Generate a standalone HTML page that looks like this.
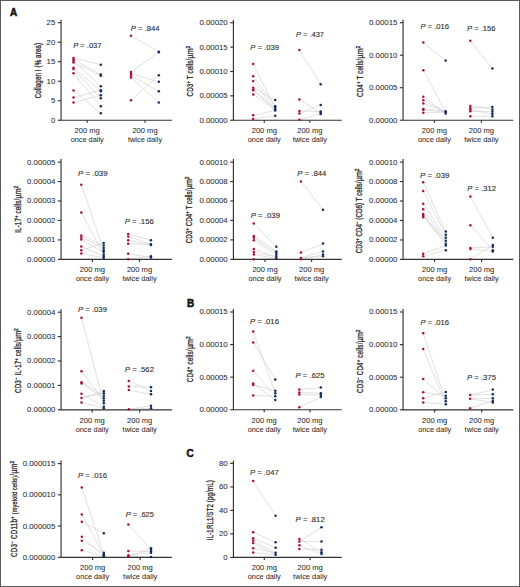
<!DOCTYPE html>
<html><head><meta charset="utf-8"><title>Figure</title>
<style>
html,body{margin:0;padding:0;background:#fff;}
body{width:520px;height:587px;overflow:hidden;}
svg{display:block;}
text{font-family:"Liberation Sans",sans-serif;fill:#2e2e2e;stroke:#2e2e2e;stroke-width:0.06px;}
.t{font-size:7.6px;}
.p{font-size:7.6px;stroke-width:0.12px;}
.y{font-size:8.4px;stroke-width:0.3px;}
.L{font-size:10px;font-weight:bold;fill:#111;stroke:#111;stroke-width:0.5px;}
.a{stroke:#333333;stroke-width:1.15;fill:none;}
.c{stroke:#cdcdcd;stroke-width:0.6;}
</style></head>
<body>
<svg width="520" height="587" viewBox="0 0 520 587">
<rect x="0.5" y="0.5" width="519" height="586" fill="#fff" stroke="#5a5a5a" stroke-width="1"/>
<line x1="73.5" y1="58.1" x2="100.8" y2="64.7" class="c"/>
<line x1="73.5" y1="59.5" x2="100.8" y2="74.5" class="c"/>
<line x1="73.5" y1="61" x2="100.8" y2="86.2" class="c"/>
<line x1="73.5" y1="62.5" x2="100.8" y2="75.7" class="c"/>
<line x1="73.5" y1="67.7" x2="100.8" y2="91.2" class="c"/>
<line x1="73.5" y1="68.9" x2="100.8" y2="98.3" class="c"/>
<line x1="73.5" y1="73.3" x2="100.8" y2="106.3" class="c"/>
<line x1="73.5" y1="90.6" x2="100.8" y2="113.2" class="c"/>
<line x1="73.5" y1="97.5" x2="100.8" y2="90.3" class="c"/>
<line x1="73.5" y1="102.5" x2="100.8" y2="95.3" class="c"/>
<line x1="131" y1="35.8" x2="158.8" y2="51.7" class="c"/>
<line x1="131" y1="72.1" x2="158.8" y2="52.2" class="c"/>
<line x1="131" y1="73.7" x2="158.8" y2="81.8" class="c"/>
<line x1="131" y1="75.5" x2="158.8" y2="91.3" class="c"/>
<line x1="131" y1="77.5" x2="158.8" y2="102.5" class="c"/>
<line x1="131" y1="100.2" x2="158.8" y2="75.2" class="c"/>
<path d="M61.05 19.7V120.25H171.9" class="a"/>
<path d="M57.85 22.7H61.05" class="a"/>
<text x="55.35" y="25.15" class="t" text-anchor="end" textLength="8.71" lengthAdjust="spacingAndGlyphs">25</text>
<path d="M57.85 42.21H61.05" class="a"/>
<text x="55.35" y="44.66" class="t" text-anchor="end" textLength="8.71" lengthAdjust="spacingAndGlyphs">20</text>
<path d="M57.85 61.72H61.05" class="a"/>
<text x="55.35" y="64.17" class="t" text-anchor="end" textLength="8.71" lengthAdjust="spacingAndGlyphs">15</text>
<path d="M57.85 81.23H61.05" class="a"/>
<text x="55.35" y="83.68" class="t" text-anchor="end" textLength="8.71" lengthAdjust="spacingAndGlyphs">10</text>
<path d="M57.85 100.74H61.05" class="a"/>
<text x="55.35" y="103.19" class="t" text-anchor="end" textLength="4.35" lengthAdjust="spacingAndGlyphs">5</text>
<path d="M57.85 120.25H61.05" class="a"/>
<text x="55.35" y="122.7" class="t" text-anchor="end" textLength="4.35" lengthAdjust="spacingAndGlyphs">0</text>
<path d="M87.2 120.25V122.85" class="a"/>
<text x="87.2" y="133.05" class="t" text-anchor="middle" textLength="25.2" lengthAdjust="spacingAndGlyphs">200 mg</text>
<path d="M145 120.25V122.85" class="a"/>
<text x="145" y="133.05" class="t" text-anchor="middle" textLength="25.2" lengthAdjust="spacingAndGlyphs">200 mg</text>
<text x="87.2" y="142.05" class="t" text-anchor="middle" textLength="33" lengthAdjust="spacingAndGlyphs">once daily</text>
<text x="145" y="142.05" class="t" text-anchor="middle" textLength="34.2" lengthAdjust="spacingAndGlyphs">twice daily</text>
<circle cx="73.5" cy="58.1" r="1.25" fill="#a8123a"/>
<circle cx="73.5" cy="59.5" r="1.25" fill="#a8123a"/>
<circle cx="73.5" cy="61" r="1.25" fill="#a8123a"/>
<circle cx="73.5" cy="62.5" r="1.25" fill="#a8123a"/>
<circle cx="73.5" cy="67.7" r="1.25" fill="#a8123a"/>
<circle cx="73.5" cy="68.9" r="1.25" fill="#a8123a"/>
<circle cx="73.5" cy="73.3" r="1.25" fill="#a8123a"/>
<circle cx="73.5" cy="90.6" r="1.25" fill="#a8123a"/>
<circle cx="73.5" cy="97.5" r="1.25" fill="#a8123a"/>
<circle cx="73.5" cy="102.5" r="1.25" fill="#a8123a"/>
<circle cx="100.8" cy="64.7" r="1.25" fill="#122c5e"/>
<circle cx="100.8" cy="74.5" r="1.25" fill="#122c5e"/>
<circle cx="100.8" cy="75.7" r="1.25" fill="#122c5e"/>
<circle cx="100.8" cy="86.2" r="1.25" fill="#122c5e"/>
<circle cx="100.8" cy="90.3" r="1.25" fill="#122c5e"/>
<circle cx="100.8" cy="91.2" r="1.25" fill="#122c5e"/>
<circle cx="100.8" cy="95.3" r="1.25" fill="#122c5e"/>
<circle cx="100.8" cy="98.3" r="1.25" fill="#122c5e"/>
<circle cx="100.8" cy="106.3" r="1.25" fill="#122c5e"/>
<circle cx="100.8" cy="113.2" r="1.25" fill="#122c5e"/>
<circle cx="131" cy="35.8" r="1.25" fill="#a8123a"/>
<circle cx="131" cy="72.1" r="1.25" fill="#a8123a"/>
<circle cx="131" cy="73.7" r="1.25" fill="#a8123a"/>
<circle cx="131" cy="75.5" r="1.25" fill="#a8123a"/>
<circle cx="131" cy="77.5" r="1.25" fill="#a8123a"/>
<circle cx="131" cy="100.2" r="1.25" fill="#a8123a"/>
<circle cx="158.8" cy="51.7" r="1.25" fill="#122c5e"/>
<circle cx="158.8" cy="52.2" r="1.25" fill="#122c5e"/>
<circle cx="158.8" cy="75.2" r="1.25" fill="#122c5e"/>
<circle cx="158.8" cy="81.8" r="1.25" fill="#122c5e"/>
<circle cx="158.8" cy="91.3" r="1.25" fill="#122c5e"/>
<circle cx="158.8" cy="102.5" r="1.25" fill="#122c5e"/>
<text x="73.2" y="47.6" class="p" textLength="28.3" lengthAdjust="spacingAndGlyphs"><tspan font-style="italic">P</tspan> = .037</text>
<text x="130.7" y="31" class="p" textLength="28.9" lengthAdjust="spacingAndGlyphs"><tspan font-style="italic">P</tspan> = .844</text>
<text transform="translate(40.7 70.65) rotate(-90) scale(0.74 1)" class="y" text-anchor="middle" textLength="74.73" lengthAdjust="spacing">Collagen I (% area)</text>
<line x1="253.2" y1="64" x2="275.2" y2="107.5" class="c"/>
<line x1="253.2" y1="76.3" x2="275.2" y2="106.3" class="c"/>
<line x1="253.2" y1="81" x2="275.2" y2="109.3" class="c"/>
<line x1="253.2" y1="87.8" x2="275.2" y2="100.1" class="c"/>
<line x1="253.2" y1="89.4" x2="275.2" y2="110.5" class="c"/>
<line x1="253.2" y1="90.2" x2="275.2" y2="107.5" class="c"/>
<line x1="253.2" y1="94.4" x2="275.2" y2="109.3" class="c"/>
<line x1="253.2" y1="115.3" x2="275.2" y2="110.5" class="c"/>
<line x1="253.2" y1="118.9" x2="275.2" y2="115.7" class="c"/>
<line x1="299.4" y1="50" x2="320.7" y2="84.2" class="c"/>
<line x1="299.4" y1="99.6" x2="320.7" y2="112.7" class="c"/>
<line x1="299.4" y1="111" x2="320.7" y2="111.5" class="c"/>
<line x1="299.4" y1="113.5" x2="320.7" y2="105" class="c"/>
<line x1="299.4" y1="119.8" x2="320.7" y2="113.9" class="c"/>
<path d="M233.4 19.7V120.25H341.7" class="a"/>
<path d="M230.2 22.7H233.4" class="a"/>
<text x="227.7" y="25.15" class="t" text-anchor="end" textLength="28.29" lengthAdjust="spacingAndGlyphs">0.00020</text>
<path d="M230.2 47.09H233.4" class="a"/>
<text x="227.7" y="49.54" class="t" text-anchor="end" textLength="28.29" lengthAdjust="spacingAndGlyphs">0.00015</text>
<path d="M230.2 71.47H233.4" class="a"/>
<text x="227.7" y="73.92" class="t" text-anchor="end" textLength="28.29" lengthAdjust="spacingAndGlyphs">0.00010</text>
<path d="M230.2 95.86H233.4" class="a"/>
<text x="227.7" y="98.31" class="t" text-anchor="end" textLength="28.29" lengthAdjust="spacingAndGlyphs">0.00005</text>
<path d="M230.2 120.25H233.4" class="a"/>
<text x="227.7" y="122.7" class="t" text-anchor="end" textLength="28.29" lengthAdjust="spacingAndGlyphs">0.00000</text>
<path d="M264.3 120.25V122.85" class="a"/>
<text x="264.3" y="133.05" class="t" text-anchor="middle" textLength="25.2" lengthAdjust="spacingAndGlyphs">200 mg</text>
<path d="M309.8 120.25V122.85" class="a"/>
<text x="309.8" y="133.05" class="t" text-anchor="middle" textLength="25.2" lengthAdjust="spacingAndGlyphs">200 mg</text>
<text x="264.3" y="142.05" class="t" text-anchor="middle" textLength="33" lengthAdjust="spacingAndGlyphs">once daily</text>
<text x="309.8" y="142.05" class="t" text-anchor="middle" textLength="34.2" lengthAdjust="spacingAndGlyphs">twice daily</text>
<circle cx="253.2" cy="64" r="1.25" fill="#a8123a"/>
<circle cx="253.2" cy="76.3" r="1.25" fill="#a8123a"/>
<circle cx="253.2" cy="81" r="1.25" fill="#a8123a"/>
<circle cx="253.2" cy="87.8" r="1.25" fill="#a8123a"/>
<circle cx="253.2" cy="89.4" r="1.25" fill="#a8123a"/>
<circle cx="253.2" cy="90.2" r="1.25" fill="#a8123a"/>
<circle cx="253.2" cy="94.4" r="1.25" fill="#a8123a"/>
<circle cx="253.2" cy="115.3" r="1.25" fill="#a8123a"/>
<circle cx="253.2" cy="118.9" r="1.25" fill="#a8123a"/>
<circle cx="275.2" cy="100.1" r="1.25" fill="#122c5e"/>
<circle cx="275.2" cy="106.3" r="1.25" fill="#122c5e"/>
<circle cx="275.2" cy="107.5" r="1.25" fill="#122c5e"/>
<circle cx="275.2" cy="109.3" r="1.25" fill="#122c5e"/>
<circle cx="275.2" cy="110.5" r="1.25" fill="#122c5e"/>
<circle cx="275.2" cy="115.7" r="1.25" fill="#122c5e"/>
<circle cx="299.4" cy="50" r="1.25" fill="#a8123a"/>
<circle cx="299.4" cy="99.6" r="1.25" fill="#a8123a"/>
<circle cx="299.4" cy="111" r="1.25" fill="#a8123a"/>
<circle cx="299.4" cy="113.5" r="1.25" fill="#a8123a"/>
<circle cx="299.4" cy="119.8" r="1.25" fill="#a8123a"/>
<circle cx="320.7" cy="84.2" r="1.25" fill="#122c5e"/>
<circle cx="320.7" cy="105" r="1.25" fill="#122c5e"/>
<circle cx="320.7" cy="111.5" r="1.25" fill="#122c5e"/>
<circle cx="320.7" cy="112.7" r="1.25" fill="#122c5e"/>
<circle cx="320.7" cy="113.9" r="1.25" fill="#122c5e"/>
<text x="250.3" y="49.8" class="p" textLength="28.7" lengthAdjust="spacingAndGlyphs"><tspan font-style="italic">P</tspan> = .039</text>
<text x="296" y="37.3" class="p" textLength="28" lengthAdjust="spacingAndGlyphs"><tspan font-style="italic">P</tspan> = .437</text>
<text transform="translate(192.5 45.7) rotate(-90)" class="y" text-anchor="end" textLength="12.7" lengthAdjust="spacingAndGlyphs" font-size="8.2">µm<tspan dy="-3.0" font-size="5.8">2</tspan></text>
<text transform="translate(192.5 77.6) rotate(-90) scale(0.74 1)" class="y" text-anchor="middle" textLength="50.81" lengthAdjust="spacing">CD3<tspan dy="-3.0" font-size="5.8">+</tspan><tspan dy="3.0"> T cells/</tspan></text>
<line x1="423.3" y1="42.6" x2="445.7" y2="60.6" class="c"/>
<line x1="423.3" y1="70.2" x2="445.7" y2="112.1" class="c"/>
<line x1="423.3" y1="96.7" x2="445.7" y2="113.5" class="c"/>
<line x1="423.3" y1="100.2" x2="445.7" y2="112.1" class="c"/>
<line x1="423.3" y1="103.6" x2="445.7" y2="111.2" class="c"/>
<line x1="423.3" y1="108.9" x2="445.7" y2="111.2" class="c"/>
<line x1="423.3" y1="109.8" x2="445.7" y2="112.1" class="c"/>
<line x1="423.3" y1="112.8" x2="445.7" y2="112.1" class="c"/>
<line x1="470.3" y1="40.8" x2="492.4" y2="68.6" class="c"/>
<line x1="470.3" y1="105.9" x2="492.4" y2="109.4" class="c"/>
<line x1="470.3" y1="108.2" x2="492.4" y2="107" class="c"/>
<line x1="470.3" y1="109.8" x2="492.4" y2="114" class="c"/>
<line x1="470.3" y1="111.2" x2="492.4" y2="111.7" class="c"/>
<line x1="470.3" y1="116.3" x2="492.4" y2="116.3" class="c"/>
<path d="M403.05 19.7V120.2H513.3" class="a"/>
<path d="M399.85 22.7H403.05" class="a"/>
<text x="397.35" y="25.15" class="t" text-anchor="end" textLength="28.29" lengthAdjust="spacingAndGlyphs">0.00015</text>
<path d="M399.85 55.2H403.05" class="a"/>
<text x="397.35" y="57.65" class="t" text-anchor="end" textLength="28.29" lengthAdjust="spacingAndGlyphs">0.00010</text>
<path d="M399.85 87.7H403.05" class="a"/>
<text x="397.35" y="90.15" class="t" text-anchor="end" textLength="28.29" lengthAdjust="spacingAndGlyphs">0.00005</text>
<path d="M399.85 120.2H403.05" class="a"/>
<text x="397.35" y="122.65" class="t" text-anchor="end" textLength="28.29" lengthAdjust="spacingAndGlyphs">0.00000</text>
<path d="M434.4 120.2V122.8" class="a"/>
<text x="434.4" y="133" class="t" text-anchor="middle" textLength="25.2" lengthAdjust="spacingAndGlyphs">200 mg</text>
<path d="M481.4 120.2V122.8" class="a"/>
<text x="481.4" y="133" class="t" text-anchor="middle" textLength="25.2" lengthAdjust="spacingAndGlyphs">200 mg</text>
<text x="434.4" y="142" class="t" text-anchor="middle" textLength="33" lengthAdjust="spacingAndGlyphs">once daily</text>
<text x="481.4" y="142" class="t" text-anchor="middle" textLength="34.2" lengthAdjust="spacingAndGlyphs">twice daily</text>
<circle cx="423.3" cy="42.6" r="1.25" fill="#a8123a"/>
<circle cx="423.3" cy="70.2" r="1.25" fill="#a8123a"/>
<circle cx="423.3" cy="96.7" r="1.25" fill="#a8123a"/>
<circle cx="423.3" cy="100.2" r="1.25" fill="#a8123a"/>
<circle cx="423.3" cy="103.6" r="1.25" fill="#a8123a"/>
<circle cx="423.3" cy="108.9" r="1.25" fill="#a8123a"/>
<circle cx="423.3" cy="109.8" r="1.25" fill="#a8123a"/>
<circle cx="423.3" cy="112.8" r="1.25" fill="#a8123a"/>
<circle cx="445.7" cy="60.6" r="1.25" fill="#122c5e"/>
<circle cx="445.7" cy="111.2" r="1.25" fill="#122c5e"/>
<circle cx="445.7" cy="112.1" r="1.25" fill="#122c5e"/>
<circle cx="445.7" cy="113.5" r="1.25" fill="#122c5e"/>
<circle cx="470.3" cy="40.8" r="1.25" fill="#a8123a"/>
<circle cx="470.3" cy="105.9" r="1.25" fill="#a8123a"/>
<circle cx="470.3" cy="108.2" r="1.25" fill="#a8123a"/>
<circle cx="470.3" cy="109.8" r="1.25" fill="#a8123a"/>
<circle cx="470.3" cy="111.2" r="1.25" fill="#a8123a"/>
<circle cx="470.3" cy="116.3" r="1.25" fill="#a8123a"/>
<circle cx="492.4" cy="68.6" r="1.25" fill="#122c5e"/>
<circle cx="492.4" cy="107" r="1.25" fill="#122c5e"/>
<circle cx="492.4" cy="109.4" r="1.25" fill="#122c5e"/>
<circle cx="492.4" cy="111.7" r="1.25" fill="#122c5e"/>
<circle cx="492.4" cy="114" r="1.25" fill="#122c5e"/>
<circle cx="492.4" cy="116.3" r="1.25" fill="#122c5e"/>
<text x="420.4" y="28.6" class="p" textLength="28.7" lengthAdjust="spacingAndGlyphs"><tspan font-style="italic">P</tspan> = .016</text>
<text x="467" y="31.4" class="p" textLength="28.6" lengthAdjust="spacingAndGlyphs"><tspan font-style="italic">P</tspan> = .156</text>
<text transform="translate(362.5 45.7) rotate(-90)" class="y" text-anchor="end" textLength="12.7" lengthAdjust="spacingAndGlyphs" font-size="8.2">µm<tspan dy="-3.0" font-size="5.8">2</tspan></text>
<text transform="translate(362.5 77.9) rotate(-90) scale(0.74 1)" class="y" text-anchor="middle" textLength="51.62" lengthAdjust="spacing">CD4<tspan dy="-3.0" font-size="5.8">+</tspan><tspan dy="3.0"> T cells/</tspan></text>
<line x1="81.3" y1="184.8" x2="103.7" y2="250.2" class="c"/>
<line x1="81.3" y1="212.4" x2="103.7" y2="254.5" class="c"/>
<line x1="81.3" y1="235.5" x2="103.7" y2="245.5" class="c"/>
<line x1="81.3" y1="237.5" x2="103.7" y2="247.9" class="c"/>
<line x1="81.3" y1="239.5" x2="103.7" y2="252.1" class="c"/>
<line x1="81.3" y1="246.6" x2="103.7" y2="256.2" class="c"/>
<line x1="81.3" y1="250.3" x2="103.7" y2="243.1" class="c"/>
<line x1="81.3" y1="253.5" x2="103.7" y2="257.9" class="c"/>
<line x1="128.2" y1="234" x2="150.9" y2="240.2" class="c"/>
<line x1="128.2" y1="236.4" x2="150.9" y2="244.3" class="c"/>
<line x1="128.2" y1="240.2" x2="150.9" y2="245" class="c"/>
<line x1="128.2" y1="243.8" x2="150.9" y2="244.3" class="c"/>
<line x1="128.2" y1="253.8" x2="150.9" y2="257.4" class="c"/>
<line x1="128.2" y1="259.3" x2="150.9" y2="256.2" class="c"/>
<path d="M61.05 159.1V259.35H171.9" class="a"/>
<path d="M57.85 162.1H61.05" class="a"/>
<text x="55.35" y="164.55" class="t" text-anchor="end" textLength="28.29" lengthAdjust="spacingAndGlyphs">0.00005</text>
<path d="M57.85 181.55H61.05" class="a"/>
<text x="55.35" y="184" class="t" text-anchor="end" textLength="28.29" lengthAdjust="spacingAndGlyphs">0.00004</text>
<path d="M57.85 201H61.05" class="a"/>
<text x="55.35" y="203.45" class="t" text-anchor="end" textLength="28.29" lengthAdjust="spacingAndGlyphs">0.00003</text>
<path d="M57.85 220.45H61.05" class="a"/>
<text x="55.35" y="222.9" class="t" text-anchor="end" textLength="28.29" lengthAdjust="spacingAndGlyphs">0.00002</text>
<path d="M57.85 239.9H61.05" class="a"/>
<text x="55.35" y="242.35" class="t" text-anchor="end" textLength="28.29" lengthAdjust="spacingAndGlyphs">0.00001</text>
<path d="M57.85 259.35H61.05" class="a"/>
<text x="55.35" y="261.8" class="t" text-anchor="end" textLength="28.29" lengthAdjust="spacingAndGlyphs">0.00000</text>
<path d="M92.4 259.35V261.95" class="a"/>
<text x="92.4" y="272.15" class="t" text-anchor="middle" textLength="25.2" lengthAdjust="spacingAndGlyphs">200 mg</text>
<path d="M139.5 259.35V261.95" class="a"/>
<text x="139.5" y="272.15" class="t" text-anchor="middle" textLength="25.2" lengthAdjust="spacingAndGlyphs">200 mg</text>
<text x="92.4" y="281.15" class="t" text-anchor="middle" textLength="33" lengthAdjust="spacingAndGlyphs">once daily</text>
<text x="139.5" y="281.15" class="t" text-anchor="middle" textLength="34.2" lengthAdjust="spacingAndGlyphs">twice daily</text>
<circle cx="81.3" cy="184.8" r="1.25" fill="#a8123a"/>
<circle cx="81.3" cy="212.4" r="1.25" fill="#a8123a"/>
<circle cx="81.3" cy="235.5" r="1.25" fill="#a8123a"/>
<circle cx="81.3" cy="237.5" r="1.25" fill="#a8123a"/>
<circle cx="81.3" cy="239.5" r="1.25" fill="#a8123a"/>
<circle cx="81.3" cy="246.6" r="1.25" fill="#a8123a"/>
<circle cx="81.3" cy="250.3" r="1.25" fill="#a8123a"/>
<circle cx="81.3" cy="253.5" r="1.25" fill="#a8123a"/>
<circle cx="103.7" cy="243.1" r="1.25" fill="#122c5e"/>
<circle cx="103.7" cy="245.5" r="1.25" fill="#122c5e"/>
<circle cx="103.7" cy="247.9" r="1.25" fill="#122c5e"/>
<circle cx="103.7" cy="250.2" r="1.25" fill="#122c5e"/>
<circle cx="103.7" cy="252.1" r="1.25" fill="#122c5e"/>
<circle cx="103.7" cy="254.5" r="1.25" fill="#122c5e"/>
<circle cx="103.7" cy="256.2" r="1.25" fill="#122c5e"/>
<circle cx="103.7" cy="257.9" r="1.25" fill="#122c5e"/>
<circle cx="128.2" cy="234" r="1.25" fill="#a8123a"/>
<circle cx="128.2" cy="236.4" r="1.25" fill="#a8123a"/>
<circle cx="128.2" cy="240.2" r="1.25" fill="#a8123a"/>
<circle cx="128.2" cy="243.8" r="1.25" fill="#a8123a"/>
<circle cx="128.2" cy="253.8" r="1.25" fill="#a8123a"/>
<circle cx="128.2" cy="259.3" r="1.25" fill="#a8123a"/>
<circle cx="150.9" cy="240.2" r="1.25" fill="#122c5e"/>
<circle cx="150.9" cy="244.3" r="1.25" fill="#122c5e"/>
<circle cx="150.9" cy="245" r="1.25" fill="#122c5e"/>
<circle cx="150.9" cy="256.2" r="1.25" fill="#122c5e"/>
<circle cx="150.9" cy="257.4" r="1.25" fill="#122c5e"/>
<text x="78.1" y="175.8" class="p" textLength="29.4" lengthAdjust="spacingAndGlyphs"><tspan font-style="italic">P</tspan> = .039</text>
<text x="124.7" y="223.7" class="p" textLength="29.1" lengthAdjust="spacingAndGlyphs"><tspan font-style="italic">P</tspan> = .156</text>
<text transform="translate(21.1 185.7) rotate(-90)" class="y" text-anchor="end" textLength="12.7" lengthAdjust="spacingAndGlyphs" font-size="8.2">µm<tspan dy="-3.0" font-size="5.8">2</tspan></text>
<text transform="translate(21.1 215.8) rotate(-90) scale(0.74 1)" class="y" text-anchor="middle" textLength="45.95" lengthAdjust="spacing">IL-17<tspan dy="-3.0" font-size="5.8">+</tspan><tspan dy="3.0"> cells/</tspan></text>
<line x1="253.8" y1="223.5" x2="276.3" y2="246.7" class="c"/>
<line x1="253.8" y1="235.9" x2="276.3" y2="251.4" class="c"/>
<line x1="253.8" y1="237.8" x2="276.3" y2="253.1" class="c"/>
<line x1="253.8" y1="240.2" x2="276.3" y2="255" class="c"/>
<line x1="253.8" y1="249" x2="276.3" y2="256.9" class="c"/>
<line x1="253.8" y1="252.1" x2="276.3" y2="256.9" class="c"/>
<line x1="253.8" y1="254.5" x2="276.3" y2="258.6" class="c"/>
<line x1="253.8" y1="259.3" x2="276.3" y2="258.6" class="c"/>
<line x1="300.9" y1="181.5" x2="323" y2="209.7" class="c"/>
<line x1="300.9" y1="252.6" x2="323" y2="243.6" class="c"/>
<line x1="300.9" y1="257.9" x2="323" y2="251.4" class="c"/>
<line x1="300.9" y1="259.3" x2="323" y2="254.5" class="c"/>
<line x1="300.9" y1="257.9" x2="323" y2="256.2" class="c"/>
<path d="M233.4 159.1V259.35H341.7" class="a"/>
<path d="M230.2 162.1H233.4" class="a"/>
<text x="227.7" y="164.55" class="t" text-anchor="end" textLength="28.29" lengthAdjust="spacingAndGlyphs">0.00010</text>
<path d="M230.2 181.55H233.4" class="a"/>
<text x="227.7" y="184" class="t" text-anchor="end" textLength="28.29" lengthAdjust="spacingAndGlyphs">0.00008</text>
<path d="M230.2 201H233.4" class="a"/>
<text x="227.7" y="203.45" class="t" text-anchor="end" textLength="28.29" lengthAdjust="spacingAndGlyphs">0.00006</text>
<path d="M230.2 220.45H233.4" class="a"/>
<text x="227.7" y="222.9" class="t" text-anchor="end" textLength="28.29" lengthAdjust="spacingAndGlyphs">0.00004</text>
<path d="M230.2 239.9H233.4" class="a"/>
<text x="227.7" y="242.35" class="t" text-anchor="end" textLength="28.29" lengthAdjust="spacingAndGlyphs">0.00002</text>
<path d="M230.2 259.35H233.4" class="a"/>
<text x="227.7" y="261.8" class="t" text-anchor="end" textLength="28.29" lengthAdjust="spacingAndGlyphs">0.00000</text>
<path d="M265 259.35V261.95" class="a"/>
<text x="265" y="272.15" class="t" text-anchor="middle" textLength="25.2" lengthAdjust="spacingAndGlyphs">200 mg</text>
<path d="M311.6 259.35V261.95" class="a"/>
<text x="311.6" y="272.15" class="t" text-anchor="middle" textLength="25.2" lengthAdjust="spacingAndGlyphs">200 mg</text>
<text x="265" y="281.15" class="t" text-anchor="middle" textLength="33" lengthAdjust="spacingAndGlyphs">once daily</text>
<text x="311.6" y="281.15" class="t" text-anchor="middle" textLength="34.2" lengthAdjust="spacingAndGlyphs">twice daily</text>
<circle cx="253.8" cy="223.5" r="1.25" fill="#a8123a"/>
<circle cx="253.8" cy="235.9" r="1.25" fill="#a8123a"/>
<circle cx="253.8" cy="237.8" r="1.25" fill="#a8123a"/>
<circle cx="253.8" cy="240.2" r="1.25" fill="#a8123a"/>
<circle cx="253.8" cy="249" r="1.25" fill="#a8123a"/>
<circle cx="253.8" cy="252.1" r="1.25" fill="#a8123a"/>
<circle cx="253.8" cy="254.5" r="1.25" fill="#a8123a"/>
<circle cx="253.8" cy="259.3" r="1.25" fill="#a8123a"/>
<circle cx="276.3" cy="246.7" r="1.25" fill="#122c5e"/>
<circle cx="276.3" cy="251.4" r="1.25" fill="#122c5e"/>
<circle cx="276.3" cy="253.1" r="1.25" fill="#122c5e"/>
<circle cx="276.3" cy="255" r="1.25" fill="#122c5e"/>
<circle cx="276.3" cy="256.9" r="1.25" fill="#122c5e"/>
<circle cx="276.3" cy="258.6" r="1.25" fill="#122c5e"/>
<circle cx="300.9" cy="181.5" r="1.25" fill="#a8123a"/>
<circle cx="300.9" cy="252.6" r="1.25" fill="#a8123a"/>
<circle cx="300.9" cy="257.9" r="1.25" fill="#a8123a"/>
<circle cx="300.9" cy="259.3" r="1.25" fill="#a8123a"/>
<circle cx="323" cy="209.7" r="1.25" fill="#122c5e"/>
<circle cx="323" cy="243.6" r="1.25" fill="#122c5e"/>
<circle cx="323" cy="251.4" r="1.25" fill="#122c5e"/>
<circle cx="323" cy="254.5" r="1.25" fill="#122c5e"/>
<circle cx="323" cy="256.2" r="1.25" fill="#122c5e"/>
<text x="250.7" y="217.5" class="p" textLength="29.4" lengthAdjust="spacingAndGlyphs"><tspan font-style="italic">P</tspan> = .039</text>
<text x="297.3" y="176" class="p" textLength="29.1" lengthAdjust="spacingAndGlyphs"><tspan font-style="italic">P</tspan> = .844</text>
<text transform="translate(192.3 176.5) rotate(-90)" class="y" text-anchor="end" textLength="12.7" lengthAdjust="spacingAndGlyphs" font-size="8.2">µm<tspan dy="-3.0" font-size="5.8">2</tspan></text>
<text transform="translate(192.3 216.4) rotate(-90) scale(0.74 1)" class="y" text-anchor="middle" textLength="72.43" lengthAdjust="spacing">CD3<tspan dy="-3.0" font-size="5.8">+</tspan><tspan dy="3.0"> CD4</tspan><tspan dy="-3.0" font-size="5.8">+</tspan><tspan dy="3.0"> T cells/</tspan></text>
<line x1="423.2" y1="182.2" x2="445.8" y2="231.6" class="c"/>
<line x1="423.2" y1="191" x2="445.8" y2="234.7" class="c"/>
<line x1="423.2" y1="203.7" x2="445.8" y2="237.8" class="c"/>
<line x1="423.2" y1="209.2" x2="445.8" y2="240.7" class="c"/>
<line x1="423.2" y1="214" x2="445.8" y2="243.8" class="c"/>
<line x1="423.2" y1="215.6" x2="445.8" y2="240.7" class="c"/>
<line x1="423.2" y1="217.3" x2="445.8" y2="243.8" class="c"/>
<line x1="423.2" y1="253.8" x2="445.8" y2="245.5" class="c"/>
<line x1="423.2" y1="256.2" x2="445.8" y2="250.2" class="c"/>
<line x1="470.4" y1="196.5" x2="492.8" y2="237.8" class="c"/>
<line x1="470.4" y1="225.2" x2="492.8" y2="250.2" class="c"/>
<line x1="470.4" y1="247.9" x2="492.8" y2="246.7" class="c"/>
<line x1="470.4" y1="249" x2="492.8" y2="251.4" class="c"/>
<line x1="470.4" y1="259.3" x2="492.8" y2="245" class="c"/>
<path d="M403.05 159.1V259.4H513.3" class="a"/>
<path d="M399.85 162.1H403.05" class="a"/>
<text x="397.35" y="164.55" class="t" text-anchor="end" textLength="28.29" lengthAdjust="spacingAndGlyphs">0.00010</text>
<path d="M399.85 181.56H403.05" class="a"/>
<text x="397.35" y="184.01" class="t" text-anchor="end" textLength="28.29" lengthAdjust="spacingAndGlyphs">0.00008</text>
<path d="M399.85 201.02H403.05" class="a"/>
<text x="397.35" y="203.47" class="t" text-anchor="end" textLength="28.29" lengthAdjust="spacingAndGlyphs">0.00006</text>
<path d="M399.85 220.48H403.05" class="a"/>
<text x="397.35" y="222.93" class="t" text-anchor="end" textLength="28.29" lengthAdjust="spacingAndGlyphs">0.00004</text>
<path d="M399.85 239.94H403.05" class="a"/>
<text x="397.35" y="242.39" class="t" text-anchor="end" textLength="28.29" lengthAdjust="spacingAndGlyphs">0.00002</text>
<path d="M399.85 259.4H403.05" class="a"/>
<text x="397.35" y="261.85" class="t" text-anchor="end" textLength="28.29" lengthAdjust="spacingAndGlyphs">0.00000</text>
<path d="M434.6 259.4V262" class="a"/>
<text x="434.6" y="272.2" class="t" text-anchor="middle" textLength="25.2" lengthAdjust="spacingAndGlyphs">200 mg</text>
<path d="M481.6 259.4V262" class="a"/>
<text x="481.6" y="272.2" class="t" text-anchor="middle" textLength="25.2" lengthAdjust="spacingAndGlyphs">200 mg</text>
<text x="434.6" y="281.2" class="t" text-anchor="middle" textLength="33" lengthAdjust="spacingAndGlyphs">once daily</text>
<text x="481.6" y="281.2" class="t" text-anchor="middle" textLength="34.2" lengthAdjust="spacingAndGlyphs">twice daily</text>
<circle cx="423.2" cy="182.2" r="1.25" fill="#a8123a"/>
<circle cx="423.2" cy="191" r="1.25" fill="#a8123a"/>
<circle cx="423.2" cy="203.7" r="1.25" fill="#a8123a"/>
<circle cx="423.2" cy="209.2" r="1.25" fill="#a8123a"/>
<circle cx="423.2" cy="214" r="1.25" fill="#a8123a"/>
<circle cx="423.2" cy="215.6" r="1.25" fill="#a8123a"/>
<circle cx="423.2" cy="217.3" r="1.25" fill="#a8123a"/>
<circle cx="423.2" cy="253.8" r="1.25" fill="#a8123a"/>
<circle cx="423.2" cy="256.2" r="1.25" fill="#a8123a"/>
<circle cx="445.8" cy="231.6" r="1.25" fill="#122c5e"/>
<circle cx="445.8" cy="234.7" r="1.25" fill="#122c5e"/>
<circle cx="445.8" cy="237.8" r="1.25" fill="#122c5e"/>
<circle cx="445.8" cy="240.7" r="1.25" fill="#122c5e"/>
<circle cx="445.8" cy="243.8" r="1.25" fill="#122c5e"/>
<circle cx="445.8" cy="245.5" r="1.25" fill="#122c5e"/>
<circle cx="445.8" cy="250.2" r="1.25" fill="#122c5e"/>
<circle cx="470.4" cy="196.5" r="1.25" fill="#a8123a"/>
<circle cx="470.4" cy="225.2" r="1.25" fill="#a8123a"/>
<circle cx="470.4" cy="247.9" r="1.25" fill="#a8123a"/>
<circle cx="470.4" cy="249" r="1.25" fill="#a8123a"/>
<circle cx="470.4" cy="259.3" r="1.25" fill="#a8123a"/>
<circle cx="492.8" cy="237.8" r="1.25" fill="#122c5e"/>
<circle cx="492.8" cy="245" r="1.25" fill="#122c5e"/>
<circle cx="492.8" cy="246.7" r="1.25" fill="#122c5e"/>
<circle cx="492.8" cy="250.2" r="1.25" fill="#122c5e"/>
<circle cx="492.8" cy="251.4" r="1.25" fill="#122c5e"/>
<text x="420" y="177.6" class="p" textLength="29.4" lengthAdjust="spacingAndGlyphs"><tspan font-style="italic">P</tspan> = .039</text>
<text x="467.3" y="190.8" class="p" textLength="28.6" lengthAdjust="spacingAndGlyphs"><tspan font-style="italic">P</tspan> = .312</text>
<text transform="translate(362.3 168.5) rotate(-90)" class="y" text-anchor="end" textLength="12.7" lengthAdjust="spacingAndGlyphs" font-size="8.2">µm<tspan dy="-3.0" font-size="5.8">2</tspan></text>
<text transform="translate(362.3 217.4) rotate(-90) scale(0.74 1)" class="y" text-anchor="middle" textLength="96.76" lengthAdjust="spacing">CD3<tspan dy="-3.0" font-size="5.8">+</tspan><tspan dy="3.0"> CD4</tspan><tspan dy="-3.0" font-size="5.8">−</tspan><tspan dy="3.0"> (CD8) T cells/</tspan></text>
<line x1="81.5" y1="317.7" x2="103.8" y2="403.2" class="c"/>
<line x1="81.5" y1="371.2" x2="103.8" y2="400.8" class="c"/>
<line x1="81.5" y1="382.2" x2="103.8" y2="395.8" class="c"/>
<line x1="81.5" y1="383.5" x2="103.8" y2="398.3" class="c"/>
<line x1="81.5" y1="393.8" x2="103.8" y2="406.7" class="c"/>
<line x1="81.5" y1="398" x2="103.8" y2="393.3" class="c"/>
<line x1="81.5" y1="402.5" x2="103.8" y2="408.2" class="c"/>
<line x1="81.5" y1="398" x2="103.8" y2="390.9" class="c"/>
<line x1="128.8" y1="381" x2="151" y2="390.9" class="c"/>
<line x1="128.8" y1="386.4" x2="151" y2="387.2" class="c"/>
<line x1="128.8" y1="390.1" x2="151" y2="394.3" class="c"/>
<line x1="128.8" y1="409.2" x2="151" y2="405.7" class="c"/>
<line x1="128.8" y1="409.2" x2="151" y2="408.2" class="c"/>
<path d="M61.05 309.2V409.8H171.9" class="a"/>
<path d="M57.85 312.2H61.05" class="a"/>
<text x="55.35" y="314.65" class="t" text-anchor="end" textLength="28.29" lengthAdjust="spacingAndGlyphs">0.00004</text>
<path d="M57.85 336.6H61.05" class="a"/>
<text x="55.35" y="339.05" class="t" text-anchor="end" textLength="28.29" lengthAdjust="spacingAndGlyphs">0.00003</text>
<path d="M57.85 361H61.05" class="a"/>
<text x="55.35" y="363.45" class="t" text-anchor="end" textLength="28.29" lengthAdjust="spacingAndGlyphs">0.00002</text>
<path d="M57.85 385.4H61.05" class="a"/>
<text x="55.35" y="387.85" class="t" text-anchor="end" textLength="28.29" lengthAdjust="spacingAndGlyphs">0.00001</text>
<path d="M57.85 409.8H61.05" class="a"/>
<text x="55.35" y="412.25" class="t" text-anchor="end" textLength="28.29" lengthAdjust="spacingAndGlyphs">0.00000</text>
<path d="M92.2 409.8V412.4" class="a"/>
<text x="92.2" y="422.6" class="t" text-anchor="middle" textLength="25.2" lengthAdjust="spacingAndGlyphs">200 mg</text>
<path d="M139.7 409.8V412.4" class="a"/>
<text x="139.7" y="422.6" class="t" text-anchor="middle" textLength="25.2" lengthAdjust="spacingAndGlyphs">200 mg</text>
<text x="92.2" y="431.6" class="t" text-anchor="middle" textLength="33" lengthAdjust="spacingAndGlyphs">once daily</text>
<text x="139.7" y="431.6" class="t" text-anchor="middle" textLength="34.2" lengthAdjust="spacingAndGlyphs">twice daily</text>
<circle cx="81.5" cy="317.7" r="1.25" fill="#a8123a"/>
<circle cx="81.5" cy="371.2" r="1.25" fill="#a8123a"/>
<circle cx="81.5" cy="382.2" r="1.25" fill="#a8123a"/>
<circle cx="81.5" cy="383.5" r="1.25" fill="#a8123a"/>
<circle cx="81.5" cy="393.8" r="1.25" fill="#a8123a"/>
<circle cx="81.5" cy="398" r="1.25" fill="#a8123a"/>
<circle cx="81.5" cy="402.5" r="1.25" fill="#a8123a"/>
<circle cx="103.8" cy="390.9" r="1.25" fill="#122c5e"/>
<circle cx="103.8" cy="393.3" r="1.25" fill="#122c5e"/>
<circle cx="103.8" cy="395.8" r="1.25" fill="#122c5e"/>
<circle cx="103.8" cy="398.3" r="1.25" fill="#122c5e"/>
<circle cx="103.8" cy="400.8" r="1.25" fill="#122c5e"/>
<circle cx="103.8" cy="403.2" r="1.25" fill="#122c5e"/>
<circle cx="103.8" cy="406.7" r="1.25" fill="#122c5e"/>
<circle cx="103.8" cy="408.2" r="1.25" fill="#122c5e"/>
<circle cx="128.8" cy="381" r="1.25" fill="#a8123a"/>
<circle cx="128.8" cy="386.4" r="1.25" fill="#a8123a"/>
<circle cx="128.8" cy="390.1" r="1.25" fill="#a8123a"/>
<circle cx="128.8" cy="409.2" r="1.25" fill="#a8123a"/>
<circle cx="151" cy="387.2" r="1.25" fill="#122c5e"/>
<circle cx="151" cy="390.9" r="1.25" fill="#122c5e"/>
<circle cx="151" cy="394.3" r="1.25" fill="#122c5e"/>
<circle cx="151" cy="405.7" r="1.25" fill="#122c5e"/>
<circle cx="151" cy="408.2" r="1.25" fill="#122c5e"/>
<text x="77.9" y="311.9" class="p" textLength="29.1" lengthAdjust="spacingAndGlyphs"><tspan font-style="italic">P</tspan> = .039</text>
<text x="124.8" y="371.7" class="p" textLength="29.2" lengthAdjust="spacingAndGlyphs"><tspan font-style="italic">P</tspan> = .562</text>
<text transform="translate(20.9 328.2) rotate(-90)" class="y" text-anchor="end" textLength="12.7" lengthAdjust="spacingAndGlyphs" font-size="8.2">µm<tspan dy="-3.0" font-size="5.8">2</tspan></text>
<text transform="translate(20.9 367.1) rotate(-90) scale(0.74 1)" class="y" text-anchor="middle" textLength="69.73" lengthAdjust="spacing">CD3<tspan dy="-3.0" font-size="5.8">−</tspan><tspan dy="3.0"> IL-17</tspan><tspan dy="-3.0" font-size="5.8">+</tspan><tspan dy="3.0"> cells/</tspan></text>
<line x1="253.2" y1="331.5" x2="275.3" y2="393.3" class="c"/>
<line x1="253.2" y1="342.5" x2="275.3" y2="379.4" class="c"/>
<line x1="253.2" y1="370.7" x2="275.3" y2="396.2" class="c"/>
<line x1="253.2" y1="383.4" x2="275.3" y2="399.9" class="c"/>
<line x1="253.2" y1="385" x2="275.3" y2="390.8" class="c"/>
<line x1="253.2" y1="395.5" x2="275.3" y2="396.2" class="c"/>
<line x1="299.3" y1="389.6" x2="320.8" y2="387.6" class="c"/>
<line x1="299.3" y1="392.5" x2="320.8" y2="393.3" class="c"/>
<line x1="299.3" y1="394.5" x2="320.8" y2="395" class="c"/>
<line x1="299.3" y1="407.3" x2="320.8" y2="397" class="c"/>
<path d="M233.4 309V409.7H341.7" class="a"/>
<path d="M230.2 312H233.4" class="a"/>
<text x="227.7" y="314.45" class="t" text-anchor="end" textLength="28.29" lengthAdjust="spacingAndGlyphs">0.00015</text>
<path d="M230.2 344.57H233.4" class="a"/>
<text x="227.7" y="347.02" class="t" text-anchor="end" textLength="28.29" lengthAdjust="spacingAndGlyphs">0.00010</text>
<path d="M230.2 377.13H233.4" class="a"/>
<text x="227.7" y="379.58" class="t" text-anchor="end" textLength="28.29" lengthAdjust="spacingAndGlyphs">0.00005</text>
<path d="M230.2 409.7H233.4" class="a"/>
<text x="227.7" y="412.15" class="t" text-anchor="end" textLength="28.29" lengthAdjust="spacingAndGlyphs">0.00000</text>
<path d="M264.2 409.7V412.3" class="a"/>
<text x="264.2" y="422.5" class="t" text-anchor="middle" textLength="25.2" lengthAdjust="spacingAndGlyphs">200 mg</text>
<path d="M309.9 409.7V412.3" class="a"/>
<text x="309.9" y="422.5" class="t" text-anchor="middle" textLength="25.2" lengthAdjust="spacingAndGlyphs">200 mg</text>
<text x="264.2" y="431.5" class="t" text-anchor="middle" textLength="33" lengthAdjust="spacingAndGlyphs">once daily</text>
<text x="309.9" y="431.5" class="t" text-anchor="middle" textLength="34.2" lengthAdjust="spacingAndGlyphs">twice daily</text>
<circle cx="253.2" cy="331.5" r="1.25" fill="#a8123a"/>
<circle cx="253.2" cy="342.5" r="1.25" fill="#a8123a"/>
<circle cx="253.2" cy="370.7" r="1.25" fill="#a8123a"/>
<circle cx="253.2" cy="383.4" r="1.25" fill="#a8123a"/>
<circle cx="253.2" cy="385" r="1.25" fill="#a8123a"/>
<circle cx="253.2" cy="395.5" r="1.25" fill="#a8123a"/>
<circle cx="275.3" cy="379.4" r="1.25" fill="#122c5e"/>
<circle cx="275.3" cy="390.8" r="1.25" fill="#122c5e"/>
<circle cx="275.3" cy="393.3" r="1.25" fill="#122c5e"/>
<circle cx="275.3" cy="396.2" r="1.25" fill="#122c5e"/>
<circle cx="275.3" cy="399.9" r="1.25" fill="#122c5e"/>
<circle cx="299.3" cy="389.6" r="1.25" fill="#a8123a"/>
<circle cx="299.3" cy="392.5" r="1.25" fill="#a8123a"/>
<circle cx="299.3" cy="394.5" r="1.25" fill="#a8123a"/>
<circle cx="299.3" cy="407.3" r="1.25" fill="#a8123a"/>
<circle cx="320.8" cy="387.6" r="1.25" fill="#122c5e"/>
<circle cx="320.8" cy="393.3" r="1.25" fill="#122c5e"/>
<circle cx="320.8" cy="395" r="1.25" fill="#122c5e"/>
<circle cx="320.8" cy="397" r="1.25" fill="#122c5e"/>
<text x="249.9" y="323.5" class="p" textLength="29.1" lengthAdjust="spacingAndGlyphs"><tspan font-style="italic">P</tspan> = .016</text>
<text x="295.6" y="377.8" class="p" textLength="28.9" lengthAdjust="spacingAndGlyphs"><tspan font-style="italic">P</tspan> = .625</text>
<text transform="translate(192.9 336.3) rotate(-90)" class="y" text-anchor="end" textLength="12.7" lengthAdjust="spacingAndGlyphs" font-size="8.2">µm<tspan dy="-3.0" font-size="5.8">2</tspan></text>
<text transform="translate(192.9 365.8) rotate(-90) scale(0.74 1)" class="y" text-anchor="middle" textLength="44.32" lengthAdjust="spacing">CD4<tspan dy="-3.0" font-size="5.8">+</tspan><tspan dy="3.0"> cells/</tspan></text>
<line x1="423.2" y1="333.3" x2="445.8" y2="401.2" class="c"/>
<line x1="423.2" y1="348.9" x2="445.8" y2="404.2" class="c"/>
<line x1="423.2" y1="379" x2="445.8" y2="398.3" class="c"/>
<line x1="423.2" y1="392.2" x2="445.8" y2="395.8" class="c"/>
<line x1="423.2" y1="398.3" x2="445.8" y2="391.9" class="c"/>
<line x1="423.2" y1="402.5" x2="445.8" y2="404.2" class="c"/>
<line x1="470.1" y1="395.1" x2="492.8" y2="389.6" class="c"/>
<line x1="470.1" y1="395.1" x2="492.8" y2="394.3" class="c"/>
<line x1="470.1" y1="398.8" x2="492.8" y2="398.3" class="c"/>
<line x1="470.1" y1="408.2" x2="492.8" y2="400.8" class="c"/>
<line x1="470.1" y1="398.8" x2="492.8" y2="402.5" class="c"/>
<path d="M403.05 309V409.8H513.3" class="a"/>
<path d="M399.85 312H403.05" class="a"/>
<text x="397.35" y="314.45" class="t" text-anchor="end" textLength="28.29" lengthAdjust="spacingAndGlyphs">0.00015</text>
<path d="M399.85 344.6H403.05" class="a"/>
<text x="397.35" y="347.05" class="t" text-anchor="end" textLength="28.29" lengthAdjust="spacingAndGlyphs">0.00010</text>
<path d="M399.85 377.2H403.05" class="a"/>
<text x="397.35" y="379.65" class="t" text-anchor="end" textLength="28.29" lengthAdjust="spacingAndGlyphs">0.00005</text>
<path d="M399.85 409.8H403.05" class="a"/>
<text x="397.35" y="412.25" class="t" text-anchor="end" textLength="28.29" lengthAdjust="spacingAndGlyphs">0.00000</text>
<path d="M434.7 409.8V412.4" class="a"/>
<text x="434.7" y="422.6" class="t" text-anchor="middle" textLength="25.2" lengthAdjust="spacingAndGlyphs">200 mg</text>
<path d="M481.7 409.8V412.4" class="a"/>
<text x="481.7" y="422.6" class="t" text-anchor="middle" textLength="25.2" lengthAdjust="spacingAndGlyphs">200 mg</text>
<text x="434.7" y="431.6" class="t" text-anchor="middle" textLength="33" lengthAdjust="spacingAndGlyphs">once daily</text>
<text x="481.7" y="431.6" class="t" text-anchor="middle" textLength="34.2" lengthAdjust="spacingAndGlyphs">twice daily</text>
<circle cx="423.2" cy="333.3" r="1.25" fill="#a8123a"/>
<circle cx="423.2" cy="348.9" r="1.25" fill="#a8123a"/>
<circle cx="423.2" cy="379" r="1.25" fill="#a8123a"/>
<circle cx="423.2" cy="392.2" r="1.25" fill="#a8123a"/>
<circle cx="423.2" cy="398.3" r="1.25" fill="#a8123a"/>
<circle cx="423.2" cy="402.5" r="1.25" fill="#a8123a"/>
<circle cx="445.8" cy="391.9" r="1.25" fill="#122c5e"/>
<circle cx="445.8" cy="395.8" r="1.25" fill="#122c5e"/>
<circle cx="445.8" cy="398.3" r="1.25" fill="#122c5e"/>
<circle cx="445.8" cy="401.2" r="1.25" fill="#122c5e"/>
<circle cx="445.8" cy="404.2" r="1.25" fill="#122c5e"/>
<circle cx="470.1" cy="395.1" r="1.25" fill="#a8123a"/>
<circle cx="470.1" cy="398.8" r="1.25" fill="#a8123a"/>
<circle cx="470.1" cy="408.2" r="1.25" fill="#a8123a"/>
<circle cx="492.8" cy="389.6" r="1.25" fill="#122c5e"/>
<circle cx="492.8" cy="394.3" r="1.25" fill="#122c5e"/>
<circle cx="492.8" cy="398.3" r="1.25" fill="#122c5e"/>
<circle cx="492.8" cy="400.8" r="1.25" fill="#122c5e"/>
<circle cx="492.8" cy="402.5" r="1.25" fill="#122c5e"/>
<text x="420.4" y="324.7" class="p" textLength="28.6" lengthAdjust="spacingAndGlyphs"><tspan font-style="italic">P</tspan> = .016</text>
<text x="466.9" y="379.6" class="p" textLength="29.1" lengthAdjust="spacingAndGlyphs"><tspan font-style="italic">P</tspan> = .375</text>
<text transform="translate(363.2 329.5) rotate(-90)" class="y" text-anchor="end" textLength="12.7" lengthAdjust="spacingAndGlyphs" font-size="8.2">µm<tspan dy="-3.0" font-size="5.8">2</tspan></text>
<text transform="translate(363.2 367.75) rotate(-90) scale(0.74 1)" class="y" text-anchor="middle" textLength="67.97" lengthAdjust="spacing">CD3<tspan dy="-3.0" font-size="5.8">−</tspan><tspan dy="3.0"> CD4</tspan><tspan dy="-3.0" font-size="5.8">+</tspan><tspan dy="3.0"> cells/</tspan></text>
<line x1="81.8" y1="487.6" x2="103.8" y2="554" class="c"/>
<line x1="81.8" y1="514.4" x2="103.8" y2="555.3" class="c"/>
<line x1="81.8" y1="521.7" x2="103.8" y2="533.2" class="c"/>
<line x1="81.8" y1="536.7" x2="103.8" y2="556.5" class="c"/>
<line x1="81.8" y1="540.8" x2="103.8" y2="552.8" class="c"/>
<line x1="81.8" y1="550.3" x2="103.8" y2="556.5" class="c"/>
<line x1="128.4" y1="524.5" x2="151" y2="549.8" class="c"/>
<line x1="128.4" y1="551" x2="151" y2="551.5" class="c"/>
<line x1="128.4" y1="555.3" x2="151" y2="552.8" class="c"/>
<line x1="128.4" y1="556.5" x2="151" y2="548.3" class="c"/>
<line x1="128.4" y1="556.5" x2="151" y2="557" class="c"/>
<path d="M61.05 460.6V557.3H171.9" class="a"/>
<path d="M57.85 463.6H61.05" class="a"/>
<text x="55.35" y="466.05" class="t" text-anchor="end" textLength="32.65" lengthAdjust="spacingAndGlyphs">0.000015</text>
<path d="M57.85 494.83H61.05" class="a"/>
<text x="55.35" y="497.28" class="t" text-anchor="end" textLength="32.65" lengthAdjust="spacingAndGlyphs">0.000010</text>
<path d="M57.85 526.07H61.05" class="a"/>
<text x="55.35" y="528.52" class="t" text-anchor="end" textLength="32.65" lengthAdjust="spacingAndGlyphs">0.000005</text>
<path d="M57.85 557.3H61.05" class="a"/>
<text x="55.35" y="559.75" class="t" text-anchor="end" textLength="32.65" lengthAdjust="spacingAndGlyphs">0.000000</text>
<path d="M92.6 557.3V559.9" class="a"/>
<text x="92.6" y="570.1" class="t" text-anchor="middle" textLength="25.2" lengthAdjust="spacingAndGlyphs">200 mg</text>
<path d="M140.2 557.3V559.9" class="a"/>
<text x="140.2" y="570.1" class="t" text-anchor="middle" textLength="25.2" lengthAdjust="spacingAndGlyphs">200 mg</text>
<text x="92.6" y="579.1" class="t" text-anchor="middle" textLength="33" lengthAdjust="spacingAndGlyphs">once daily</text>
<text x="140.2" y="579.1" class="t" text-anchor="middle" textLength="34.2" lengthAdjust="spacingAndGlyphs">twice daily</text>
<circle cx="81.8" cy="487.6" r="1.25" fill="#a8123a"/>
<circle cx="81.8" cy="514.4" r="1.25" fill="#a8123a"/>
<circle cx="81.8" cy="521.7" r="1.25" fill="#a8123a"/>
<circle cx="81.8" cy="536.7" r="1.25" fill="#a8123a"/>
<circle cx="81.8" cy="540.8" r="1.25" fill="#a8123a"/>
<circle cx="81.8" cy="550.3" r="1.25" fill="#a8123a"/>
<circle cx="103.8" cy="533.2" r="1.25" fill="#122c5e"/>
<circle cx="103.8" cy="552.8" r="1.25" fill="#122c5e"/>
<circle cx="103.8" cy="554" r="1.25" fill="#122c5e"/>
<circle cx="103.8" cy="555.3" r="1.25" fill="#122c5e"/>
<circle cx="103.8" cy="556.5" r="1.25" fill="#122c5e"/>
<circle cx="128.4" cy="524.5" r="1.25" fill="#a8123a"/>
<circle cx="128.4" cy="551" r="1.25" fill="#a8123a"/>
<circle cx="128.4" cy="555.3" r="1.25" fill="#a8123a"/>
<circle cx="128.4" cy="556.5" r="1.25" fill="#a8123a"/>
<circle cx="151" cy="548.3" r="1.25" fill="#122c5e"/>
<circle cx="151" cy="549.8" r="1.25" fill="#122c5e"/>
<circle cx="151" cy="551.5" r="1.25" fill="#122c5e"/>
<circle cx="151" cy="552.8" r="1.25" fill="#122c5e"/>
<circle cx="151" cy="557" r="1.25" fill="#122c5e"/>
<text x="78" y="477.7" class="p" textLength="29.1" lengthAdjust="spacingAndGlyphs"><tspan font-style="italic">P</tspan> = .016</text>
<text x="125.7" y="517" class="p" textLength="28.3" lengthAdjust="spacingAndGlyphs"><tspan font-style="italic">P</tspan> = .625</text>
<text transform="translate(17.2 460.8) rotate(-90)" class="y" text-anchor="end" textLength="12.7" lengthAdjust="spacingAndGlyphs" font-size="8.2">µm<tspan dy="-3.0" font-size="5.8">2</tspan></text>
<text transform="translate(17.2 515.4) rotate(-90) scale(0.74 1)" class="y" text-anchor="middle" textLength="112.16" lengthAdjust="spacing">CD3<tspan dy="-3.0" font-size="5.8">−</tspan><tspan dy="3.0"> CD11b</tspan><tspan dy="-3.0" font-size="5.8">+</tspan><tspan dy="3.0" font-size="7.4"> (myeloid cells)</tspan>/</text>
<line x1="253.2" y1="481" x2="275.6" y2="515.7" class="c"/>
<line x1="253.2" y1="532.2" x2="275.6" y2="542.3" class="c"/>
<line x1="253.2" y1="538.2" x2="275.6" y2="547.8" class="c"/>
<line x1="253.2" y1="540.5" x2="275.6" y2="552.8" class="c"/>
<line x1="253.2" y1="542.9" x2="275.6" y2="554.8" class="c"/>
<line x1="253.2" y1="548.3" x2="275.6" y2="552.8" class="c"/>
<line x1="253.2" y1="552.6" x2="275.6" y2="554.8" class="c"/>
<line x1="299.4" y1="539" x2="321.5" y2="552.3" class="c"/>
<line x1="299.4" y1="541.5" x2="321.5" y2="527.2" class="c"/>
<line x1="299.4" y1="541.5" x2="321.5" y2="541.5" class="c"/>
<line x1="299.4" y1="545.3" x2="321.5" y2="554" class="c"/>
<line x1="299.4" y1="549" x2="321.5" y2="549.8" class="c"/>
<path d="M233.4 460.4V557.4H341.7" class="a"/>
<path d="M230.2 463.4H233.4" class="a"/>
<text x="227.7" y="465.85" class="t" text-anchor="end" textLength="8.71" lengthAdjust="spacingAndGlyphs">80</text>
<path d="M230.2 486.9H233.4" class="a"/>
<text x="227.7" y="489.35" class="t" text-anchor="end" textLength="8.71" lengthAdjust="spacingAndGlyphs">60</text>
<path d="M230.2 510.4H233.4" class="a"/>
<text x="227.7" y="512.85" class="t" text-anchor="end" textLength="8.71" lengthAdjust="spacingAndGlyphs">40</text>
<path d="M230.2 533.9H233.4" class="a"/>
<text x="227.7" y="536.35" class="t" text-anchor="end" textLength="8.71" lengthAdjust="spacingAndGlyphs">20</text>
<path d="M230.2 557.4H233.4" class="a"/>
<text x="227.7" y="559.85" class="t" text-anchor="end" textLength="4.35" lengthAdjust="spacingAndGlyphs">0</text>
<path d="M264.3 557.4V560" class="a"/>
<text x="264.3" y="570.2" class="t" text-anchor="middle" textLength="25.2" lengthAdjust="spacingAndGlyphs">200 mg</text>
<path d="M310.2 557.4V560" class="a"/>
<text x="310.2" y="570.2" class="t" text-anchor="middle" textLength="25.2" lengthAdjust="spacingAndGlyphs">200 mg</text>
<text x="264.3" y="579.2" class="t" text-anchor="middle" textLength="33" lengthAdjust="spacingAndGlyphs">once daily</text>
<text x="310.2" y="579.2" class="t" text-anchor="middle" textLength="34.2" lengthAdjust="spacingAndGlyphs">twice daily</text>
<circle cx="253.2" cy="481" r="1.25" fill="#a8123a"/>
<circle cx="253.2" cy="532.2" r="1.25" fill="#a8123a"/>
<circle cx="253.2" cy="538.2" r="1.25" fill="#a8123a"/>
<circle cx="253.2" cy="540.5" r="1.25" fill="#a8123a"/>
<circle cx="253.2" cy="542.9" r="1.25" fill="#a8123a"/>
<circle cx="253.2" cy="548.3" r="1.25" fill="#a8123a"/>
<circle cx="253.2" cy="552.6" r="1.25" fill="#a8123a"/>
<circle cx="275.6" cy="515.7" r="1.25" fill="#122c5e"/>
<circle cx="275.6" cy="542.3" r="1.25" fill="#122c5e"/>
<circle cx="275.6" cy="547.8" r="1.25" fill="#122c5e"/>
<circle cx="275.6" cy="552.8" r="1.25" fill="#122c5e"/>
<circle cx="275.6" cy="554.8" r="1.25" fill="#122c5e"/>
<circle cx="299.4" cy="539" r="1.25" fill="#a8123a"/>
<circle cx="299.4" cy="541.5" r="1.25" fill="#a8123a"/>
<circle cx="299.4" cy="545.3" r="1.25" fill="#a8123a"/>
<circle cx="299.4" cy="549" r="1.25" fill="#a8123a"/>
<circle cx="321.5" cy="527.2" r="1.25" fill="#122c5e"/>
<circle cx="321.5" cy="541.5" r="1.25" fill="#122c5e"/>
<circle cx="321.5" cy="549.8" r="1.25" fill="#122c5e"/>
<circle cx="321.5" cy="552.3" r="1.25" fill="#122c5e"/>
<circle cx="321.5" cy="554" r="1.25" fill="#122c5e"/>
<text x="250" y="475.2" class="p" textLength="28.8" lengthAdjust="spacingAndGlyphs"><tspan font-style="italic">P</tspan> = .047</text>
<text x="295.6" y="522" class="p" textLength="29.1" lengthAdjust="spacingAndGlyphs"><tspan font-style="italic">P</tspan> = .812</text>
<text transform="translate(212.9 510.2) rotate(-90) scale(0.74 1)" class="y" text-anchor="middle" textLength="81.08" lengthAdjust="spacing">IL-1RL1/ST2 (pg/mL)</text>
<text x="10.0" y="15.6" class="L">A</text>
<text x="186.9" y="307" class="L">B</text>
<text x="186.6" y="457.1" class="L">C</text>
</svg>
</body></html>
